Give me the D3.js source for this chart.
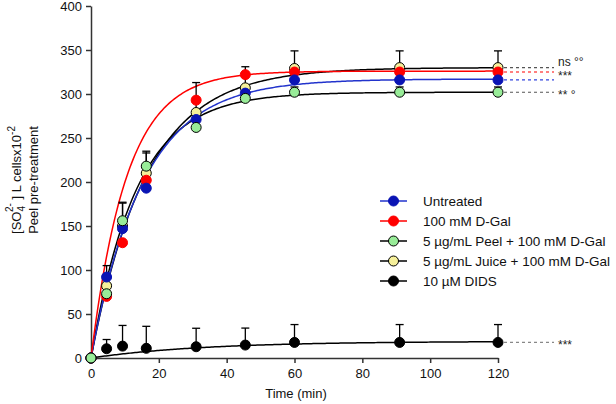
<!DOCTYPE html>
<html>
<head>
<meta charset="utf-8">
<script src="https://cdn.jsdelivr.net/npm/d3@7"></script>
<style>
  body { margin: 0; background: #fff; }
  svg { font-family: "Liberation Sans", Arial, sans-serif; }
</style>
</head>
<body>
<svg id="chart" width="616" height="404"></svg>
<script>
// Time points (min)
const times = [0, 4.6, 9.3, 16.3, 31, 45.5, 60, 91, 120];

// Mean values for each group
const untreated = [0, 92, 147, 193, 271, 301, 316, 316, 316];
const dgal = [0, 70, 131, 202, 293, 322, 325, 325, 325];
const peel = [0, 73, 156, 218, 262, 295, 302, 302, 302];
const juice = [0, 82, 150, 210, 279, 307, 329, 330, 330];
const dids = [0, 10.5, 13.5, 11, 12.8, 14.7, 17.7, 17.7, 17.7];

// Upper error bars (only the visible ones matter)
const juiceErr = [0, 23, 27, 25, 34, 24, 20, 19, 19];
const peelErr = [0, 12, 20, 15, 10, 8, 6, 6, 6];
const didsErr = [0, 10.5, 23.5, 25, 21, 19.3, 20.3, 20.3, 20.3];

// One-phase association fits: Y = plateau * (1 - exp(-k t))
const fitNames = ["untreated", "dgal", "peel", "juice", "dids"];
const fitPlateau = [317, 326, 302, 330, 19];
const fitRate = [0.065, 0.095, 0.075, 0.061, 0.03];

const legendLabels = [
  "Untreated",
  "100 mM D-Gal",
  "5 \u00b5g/mL Peel + 100 mM D-Gal",
  "5 \u00b5g/mL Juice + 100 mM D-Gal",
  "10 \u00b5M DIDS"
];

const xTicks = [0, 20, 40, 60, 80, 100, 120];
const yTicks = [0, 50, 100, 150, 200, 250, 300, 350, 400];

const sigLabels = [
  { level: 330, text: "ns \u00b0\u00b0", color: "#555", dy: -1.5 },
  { level: 325, text: "***", color: "red", dy: 8 },
  { level: 316, text: "", color: "#3344dd", dy: 0 },
  { level: 302, text: "** \u00b0", color: "#555", dy: 7 },
  { level: 17.7, text: "***", color: "#888", dy: 7 }
];

const svg = d3.select("#chart");

const x = d3.scaleLinear().domain([0, 120]).range([91, 498]);
const y = d3.scaleLinear().domain([0, 400]).range([358, 6]);

// Series styling
const series = [
  { key: "juice", vals: juice, err: juiceErr, fill: "#f6f09a", stroke: "#000", line: "#000" },
  { key: "dgal", vals: dgal, err: null, fill: "#ff0000", stroke: "#ff0000", line: "#ff0000" },
  { key: "untreated", vals: untreated, err: null, fill: "#0a14b4", stroke: "#0a14b4", line: "#2233cc" },
  { key: "dids", vals: dids, err: didsErr, fill: "#000", stroke: "#000", line: "#000" },
  { key: "peel", vals: peel, err: peelErr, fill: "#98ec98", stroke: "#000", line: "#000" }
];

// Axes
const axisColor = "#333";
const xAxis = svg.append("g")
  .attr("transform", "translate(0," + y(0) + ")")
  .call(d3.axisBottom(x).tickValues(xTicks).tickSize(5).tickSizeOuter(0));
const yAxis = svg.append("g")
  .attr("transform", "translate(" + x(0) + ",0)")
  .call(d3.axisLeft(y).tickValues(yTicks).tickSize(5).tickSizeOuter(0));
[xAxis, yAxis].forEach(a => {
  a.select(".domain").attr("stroke", axisColor).attr("stroke-width", 1.5);
  a.selectAll(".tick line").attr("stroke", axisColor).attr("stroke-width", 1.5);
  a.selectAll(".tick text").attr("fill", "#111").style("font-size", "13px")
    .style("font-family", "Liberation Sans, Arial, sans-serif");
});
xAxis.selectAll(".tick text").attr("dy", "0.9em");
yAxis.selectAll(".tick text").attr("dx", "-1px");

// Axis titles
svg.append("text")
  .attr("x", 296).attr("y", 398)
  .attr("text-anchor", "middle")
  .style("font-size", "13px")
  .attr("fill", "#111")
  .text("Time (min)");

const yl = svg.append("text")
  .attr("transform", "translate(21,180) rotate(-90)")
  .attr("text-anchor", "middle")
  .style("font-size", "13px")
  .attr("fill", "#111");
yl.append("tspan").text("[SO");
yl.append("tspan").attr("dy", 4).style("font-size", "10px").text("4");
yl.append("tspan").attr("dx", -6).attr("dy", -12).style("font-size", "10px").text("2-");
yl.append("tspan").attr("dy", 8).text(" ] L cellsx10");
yl.append("tspan").attr("dy", -6).style("font-size", "10px").text("-2");

svg.append("text")
  .attr("transform", "translate(38,180) rotate(-90)")
  .attr("text-anchor", "middle")
  .style("font-size", "13px")
  .attr("fill", "#111")
  .text("Peel pre-treatment");

// Fitted curves
const curveT = d3.range(0, 120.01, 0.5);
const line = d3.line().x(d => x(d[0])).y(d => y(d[1]));
const curveOrder = ["peel", "juice", "dids", "untreated", "dgal"];
curveOrder.forEach(name => {
  const i = fitNames.indexOf(name);
  const s = series.find(d => d.key === name);
  const pts = curveT.map(t => [t, fitPlateau[i] * (1 - Math.exp(-fitRate[i] * t))]);
  svg.append("path")
    .datum(pts)
    .attr("d", line)
    .attr("fill", "none")
    .attr("stroke", s.line)
    .attr("stroke-width", 1.5);
});

// Significance dashed lines and labels
sigLabels.forEach(d => {
  svg.append("line")
    .attr("x1", x(120) + 6).attr("x2", 554)
    .attr("y1", y(d.level)).attr("y2", y(d.level))
    .attr("stroke", d.color)
    .attr("stroke-width", 1.2)
    .attr("stroke-dasharray", "3,3");
  if (d.text) {
    svg.append("text")
      .attr("x", 558).attr("y", y(d.level) + d.dy)
      .style("font-size", "12px")
      .attr("fill", "#222")
      .text(d.text);
  }
});

// Error bars (upper only)
series.filter(s => s.err).forEach(s => {
  const g = svg.append("g");
  times.forEach((t, i) => {
    if (!s.err[i]) return;
    const top = y(s.vals[i] + s.err[i]);
    g.append("line")
      .attr("x1", x(t)).attr("x2", x(t))
      .attr("y1", y(s.vals[i])).attr("y2", top)
      .attr("stroke", "#000").attr("stroke-width", 1.3);
    g.append("line")
      .attr("x1", x(t) - 4).attr("x2", x(t) + 4)
      .attr("y1", top).attr("y2", top)
      .attr("stroke", "#000").attr("stroke-width", 1.3);
  });
});

// Points
series.forEach(s => {
  svg.append("g").selectAll("circle")
    .data(times.map((t, i) => [t, s.vals[i]]))
    .join("circle")
    .attr("cx", d => x(d[0]))
    .attr("cy", d => y(d[1]))
    .attr("r", 5)
    .attr("fill", s.fill)
    .attr("stroke", s.stroke)
    .attr("stroke-width", 1);
});

// Legend
const legendOrder = ["untreated", "dgal", "peel", "juice", "dids"];
const legend = svg.append("g");
legendOrder.forEach((k, i) => {
  const s = series.find(d => d.key === k);
  const ly = 201 + i * 20;
  legend.append("line")
    .attr("x1", 380).attr("x2", 407)
    .attr("y1", ly).attr("y2", ly)
    .attr("stroke", s.line).attr("stroke-width", 1.5);
  legend.append("circle")
    .attr("cx", 393.5).attr("cy", ly).attr("r", 5)
    .attr("fill", s.fill).attr("stroke", s.stroke).attr("stroke-width", 1);
  legend.append("text")
    .attr("x", 423).attr("y", ly + 5)
    .style("font-size", "13.5px")
    .attr("fill", "#111")
    .text(legendLabels[i]);
});
</script>
</body>
</html>
